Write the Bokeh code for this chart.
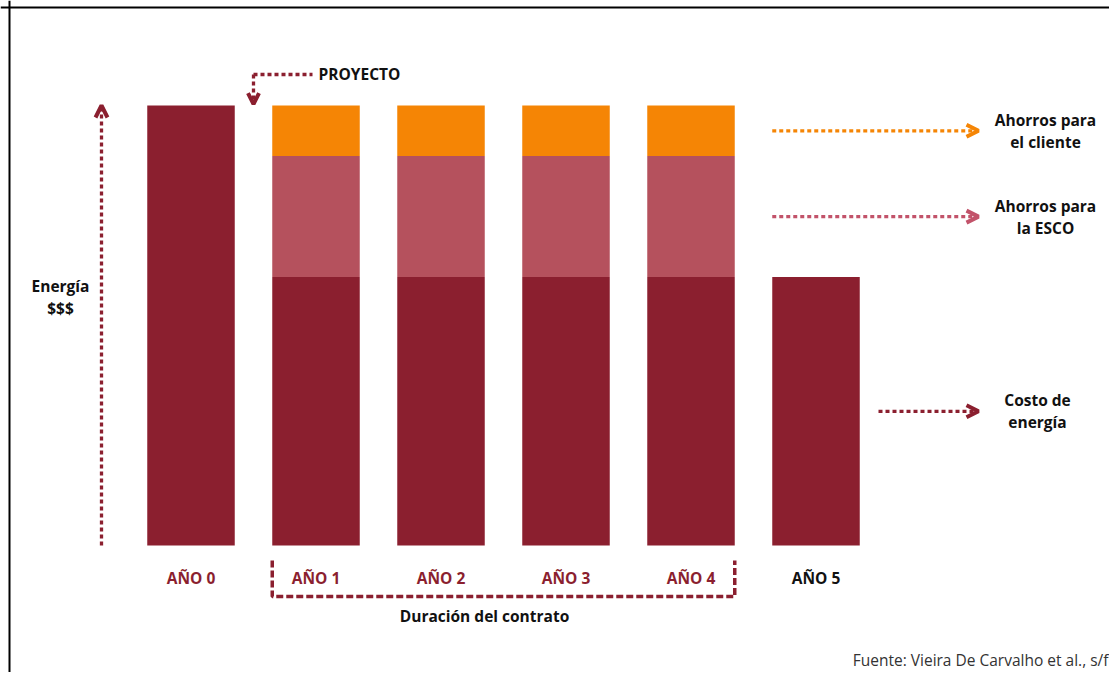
from bokeh.plotting import figure
from bokeh.models import Range1d, Arrow, OpenHead, Span, ColumnDataSource
from bokeh.core.properties import value
from bokeh.embed import file_html
from bokeh.resources import INLINE

# ---- data ----
categories = ["AÑO 0", "AÑO 1", "AÑO 2", "AÑO 3", "AÑO 4", "AÑO 5"]
costo_energia = [100, 61, 61, 61, 61, 61]
ahorro_esco = [0, 27.5, 27.5, 27.5, 27.5, 0]
ahorro_cliente = [0, 11.5, 11.5, 11.5, 11.5, 0]
label_colors = ["#8B1F2F", "#8B1F2F", "#8B1F2F", "#8B1F2F", "#8B1F2F", "#111111"]

DARK = "#8B1F2F"
PINK = "#B5515D"
ORANGE = "#F58505"
ESCO_ARROW = "#C2536A"
FONT = value("Open Sans")
FS = "15.5px"

xs = list(range(len(categories)))
src = ColumnDataSource(dict(
    x=xs, cat=categories,
    costo=costo_energia, esco=ahorro_esco, cliente=ahorro_cliente,
    lc=label_colors,
))

W, H = 1109, 672
PXX, PXY = 125.0, 4.4          # pixels per category / per value unit
X_ORIG, Y_ORIG = 190.5, 545.0  # pixel position of category 0 / value 0
x0 = -X_ORIG / PXX
x1 = x0 + W / PXX
y1 = Y_ORIG / PXY
y0 = -(H - Y_ORIG) / PXY

p = figure(width=W, height=H, x_range=Range1d(x0, x1), y_range=Range1d(y0, y1),
           output_backend="svg", toolbar_location=None,
           x_axis_location=None, y_axis_location=None,
           min_border=0, outline_line_color=None,
           background_fill_color="white", border_fill_color="white")
p.grid.visible = False

# stacked bars
p.vbar_stack(["costo", "esco", "cliente"], x="x", width=0.7, source=src,
             color=[DARK, PINK, ORANGE], line_color=None)

# border (top + left)
p.add_layout(Span(location=(Y_ORIG - 7) / PXY, dimension="width", line_color="black", line_width=2))
p.add_layout(Span(location=(9 - X_ORIG) / PXX, dimension="height", line_color="black", line_width=2))

# category labels
p.text(x="x", y=-7.3, text="cat", source=src, text_color="lc",
       text_font=FONT, text_font_style="bold", text_font_size=FS,
       text_align="center", text_baseline="middle")

LW = 3.3
DOT = "4 3"
HW = 4
# y axis arrow
p.add_layout(Arrow(end=OpenHead(size=12, line_color=DARK, line_width=HW),
                   x_start=-0.716, y_start=0, x_end=-0.716, y_end=100,
                   line_color=DARK, line_width=LW, line_dash=DOT))
p.text(x=[-1.044, -1.044], y=[58.9, 53.9], text=["Energía", "$$$"],
       text_font=FONT, text_font_style="bold", text_font_size=FS,
       text_color="#111111", text_align="center", text_baseline="middle")

# PROYECTO marker
p.line(x=[0.5, 0.972], y=[107.05, 107.05], line_color=DARK, line_width=LW, line_dash=DOT)
p.add_layout(Arrow(end=OpenHead(size=11, line_color=DARK, line_width=HW),
                   x_start=0.5, y_start=107.05, x_end=0.5, y_end=100.3,
                   line_color=DARK, line_width=LW, line_dash=DOT))
p.text(x=[1.02], y=[107.05], text=["PROYECTO"],
       text_font=FONT, text_font_style="bold", text_font_size=FS,
       text_color="#111111", text_align="left", text_baseline="middle")

# right-side arrows, at the middle of each segment of AÑO 4
c4 = costo_energia[4]
e4 = ahorro_esco[4]
k4 = ahorro_cliente[4]
y_cli = c4 + e4 + k4 / 2.0
y_esc = c4 + e4 / 2.0
y_cos = c4 / 2.0
for ys, xs_, col in [(y_cli, 4.65, ORANGE), (y_esc, 4.65, ESCO_ARROW), (y_cos, 5.5, DARK)]:
    p.add_layout(Arrow(end=OpenHead(size=12, line_color=col, line_width=HW),
                       x_start=xs_, y_start=ys, x_end=6.3, y_end=ys,
                       line_color=col, line_width=LW, line_dash=DOT))

lh = 22 / PXY / 2.0
p.text(x=[6.836, 6.836, 6.836, 6.836, 6.772, 6.772],
       y=[y_cli + lh, y_cli - lh, y_esc + lh, y_esc - lh, y_cos + lh, y_cos - lh],
       text=["Ahorros para", "el cliente", "Ahorros para", "la ESCO", "Costo de", "energía"],
       text_font=FONT, text_font_style="bold", text_font_size=FS,
       text_color="#111111", text_align="center", text_baseline="middle")

# contract bracket
p.line(x=[0.65, 0.65, 4.35, 4.35], y=[-3.41, -11.59, -11.59, -3.41],
       line_color=DARK, line_width=3.5, line_dash="7 3")
p.text(x=[2.348], y=[-16.1], text=["Duración del contrato"],
       text_font=FONT, text_font_style="bold", text_font_size=FS,
       text_color="#111111", text_align="center", text_baseline="middle")

# source
p.text(x=[7.34], y=[-26.1], text=["Fuente: Vieira De Carvalho et al., s/f"],
       text_font=FONT, text_font_size=FS,
       text_color="#333333", text_align="right", text_baseline="middle")

open("out.html", "w").write(file_html(p, INLINE))
